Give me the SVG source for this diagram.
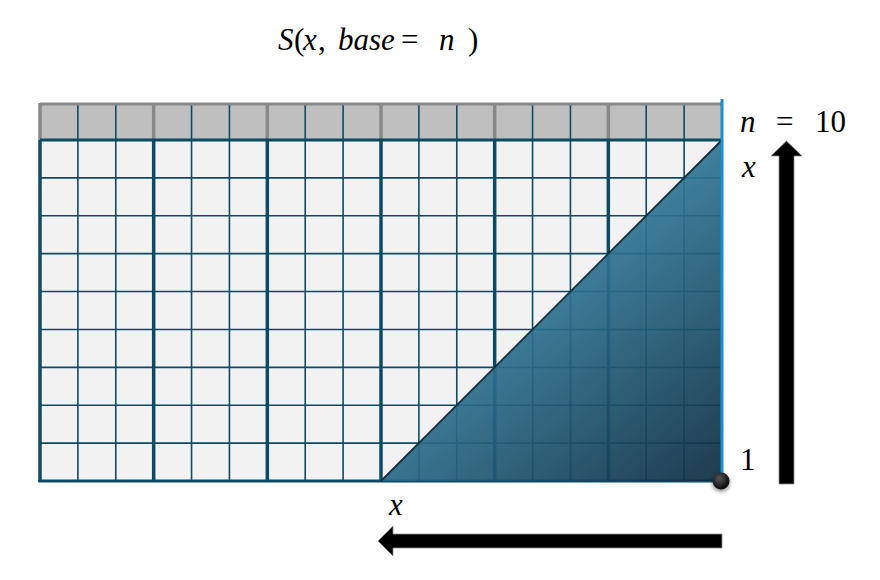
<svg xmlns="http://www.w3.org/2000/svg" width="880" height="580" viewBox="0 0 880 580">
  <style>
    .cell{fill:#f2f2f2}
    .thin{stroke:#0d4a66;stroke-width:1.6;fill:none}
    .thick{stroke:#0d4a66;stroke-width:3.5;fill:none}
    .gthick{stroke:#888888;stroke-width:3.5;fill:none}
    .math{font-family:"Liberation Serif",serif;font-size:31px;fill:#000}
    .it{font-style:italic}
    .arrow{fill:#000;stroke:#8a8a8a;stroke-width:0.8}
  </style>
  <defs>
    <linearGradient id="tri" gradientUnits="userSpaceOnUse" x1="540" y1="260" x2="722" y2="481">
      <stop offset="0" stop-color="#327d9e"/>
      <stop offset="1" stop-color="#0c2c40"/>
    </linearGradient>
    <radialGradient id="dotg" cx="0.4" cy="0.35" r="0.7">
      <stop offset="0" stop-color="#555"/>
      <stop offset="1" stop-color="#000"/>
    </radialGradient>
    <filter id="glow" x="-3" y="-0.1" width="7" height="1.2">
      <feGaussianBlur stdDeviation="2.2"/>
    </filter>
    <filter id="shadow" x="-1" y="-1" width="3" height="3">
      <feDropShadow dx="0" dy="2" stdDeviation="2" flood-color="#000" flood-opacity="0.5"/>
    </filter>
  </defs>

  <rect width="880" height="580" fill="#fff"/>

  <g id="title">
    <text class="math" y="50">
      <tspan class="it" x="278">S</tspan><tspan x="294">(</tspan><tspan class="it" x="303">x</tspan><tspan x="318">,</tspan><tspan class="it" x="338">base</tspan><tspan x="401">=</tspan><tspan class="it" x="439">n</tspan><tspan x="468">)</tspan>
    </text>
  </g>

  <g id="grid">
    <rect id="header" x="40" y="104" width="682" height="36" fill="#bfbfbf"/>
    <rect class="cell" x="40" y="140" width="682" height="341"/>
    <g class="thin">
      <line x1="77.89" y1="104" x2="77.89" y2="140"/>
      <line x1="115.78" y1="104" x2="115.78" y2="140"/>
      <line x1="191.56" y1="104" x2="191.56" y2="140"/>
      <line x1="229.44" y1="104" x2="229.44" y2="140"/>
      <line x1="305.22" y1="104" x2="305.22" y2="140"/>
      <line x1="343.11" y1="104" x2="343.11" y2="140"/>
      <line x1="418.89" y1="104" x2="418.89" y2="140"/>
      <line x1="456.78" y1="104" x2="456.78" y2="140"/>
      <line x1="532.56" y1="104" x2="532.56" y2="140"/>
      <line x1="570.44" y1="104" x2="570.44" y2="140"/>
      <line x1="646.22" y1="104" x2="646.22" y2="140"/>
      <line x1="684.11" y1="104" x2="684.11" y2="140"/>
    </g>
    <g class="gthick">
      <line x1="40" y1="104" x2="722" y2="104" stroke-width="3"/>
      <line x1="40" y1="103" x2="40" y2="140"/>
      <line x1="153.67" y1="104" x2="153.67" y2="140"/>
      <line x1="267.33" y1="104" x2="267.33" y2="140"/>
      <line x1="381" y1="104" x2="381" y2="140"/>
      <line x1="494.67" y1="104" x2="494.67" y2="140"/>
      <line x1="608.33" y1="104" x2="608.33" y2="140"/>
    </g>
    <g class="thin">
      <line x1="77.89" y1="140" x2="77.89" y2="481"/>
      <line x1="115.78" y1="140" x2="115.78" y2="481"/>
      <line x1="191.56" y1="140" x2="191.56" y2="481"/>
      <line x1="229.44" y1="140" x2="229.44" y2="481"/>
      <line x1="305.22" y1="140" x2="305.22" y2="481"/>
      <line x1="343.11" y1="140" x2="343.11" y2="481"/>
      <line x1="418.89" y1="140" x2="418.89" y2="481"/>
      <line x1="456.78" y1="140" x2="456.78" y2="481"/>
      <line x1="532.56" y1="140" x2="532.56" y2="481"/>
      <line x1="570.44" y1="140" x2="570.44" y2="481"/>
      <line x1="646.22" y1="140" x2="646.22" y2="481"/>
      <line x1="684.11" y1="140" x2="684.11" y2="481"/>
      <line x1="40" y1="177.89" x2="722" y2="177.89"/>
      <line x1="40" y1="215.78" x2="722" y2="215.78"/>
      <line x1="40" y1="253.67" x2="722" y2="253.67"/>
      <line x1="40" y1="291.56" x2="722" y2="291.56"/>
      <line x1="40" y1="329.44" x2="722" y2="329.44"/>
      <line x1="40" y1="367.33" x2="722" y2="367.33"/>
      <line x1="40" y1="405.22" x2="722" y2="405.22"/>
      <line x1="40" y1="443.11" x2="722" y2="443.11"/>
    </g>
    <g class="thick">
      <line x1="40" y1="140" x2="40" y2="482"/>
      <line x1="153.67" y1="140" x2="153.67" y2="481"/>
      <line x1="267.33" y1="140" x2="267.33" y2="481"/>
      <line x1="381" y1="140" x2="381" y2="481"/>
      <line x1="494.67" y1="140" x2="494.67" y2="481"/>
      <line x1="608.33" y1="140" x2="608.33" y2="481"/>
      <line x1="40" y1="140" x2="722" y2="140" stroke-width="3"/>
      <line x1="38.5" y1="481" x2="722" y2="481" stroke-width="3"/>
    </g>
  </g>

  <g id="triangle">
    <polygon points="381,481 722,140 722,481" fill="url(#tri)" fill-opacity="0.92"/>
    <line x1="381" y1="481" x2="722" y2="140" stroke="#15303d" stroke-width="1.8"/>
  </g>

  <g id="right-edge">
    <line x1="722" y1="99" x2="722" y2="480" stroke="#7cc6f0" stroke-width="7" filter="url(#glow)"/>
    <line x1="722" y1="99" x2="722" y2="480" stroke="#1a8fd0" stroke-width="3"/>
  </g>

  <g id="origin-dot">
    <circle cx="721" cy="481" r="8.5" fill="url(#dotg)" filter="url(#shadow)"/>
  </g>

  <g id="labels">
    <text class="math" y="132"><tspan class="it" x="740">n</tspan><tspan x="776">=</tspan><tspan x="815">10</tspan></text>
    <text class="math it" x="742" y="177">x</text>
    <text class="math" x="740" y="470">1</text>
    <text class="math it" x="389" y="515">x</text>
  </g>

  <g id="connectors">
    <polygon class="arrow" points="779,484 779,156 771,156 786.5,141 802,156 794,156 794,484"/>
    <polygon class="arrow" points="722,534 393,534 393,526 378,541 393,556 393,548 722,548"/>
  </g>
</svg>
